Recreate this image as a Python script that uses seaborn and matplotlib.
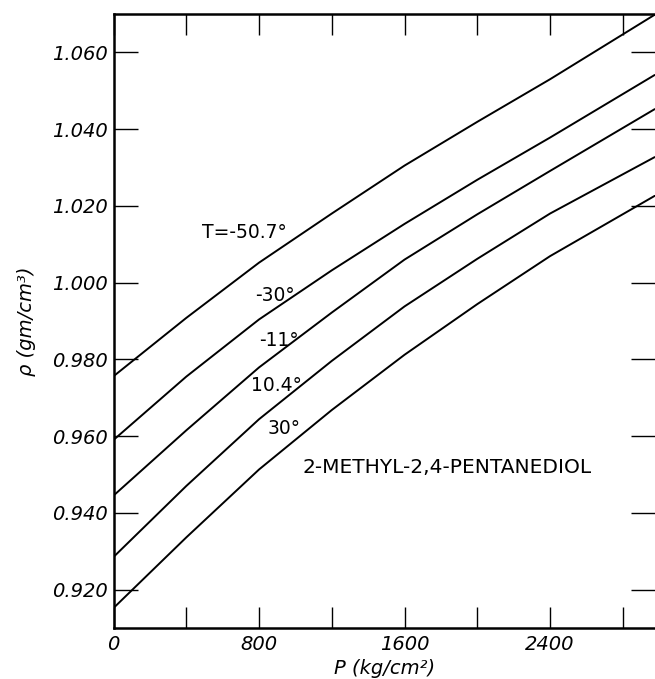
import numpy as np
import pandas as pd
import seaborn as sns
import matplotlib.pyplot as plt
from matplotlib.ticker import MultipleLocator

# pressure (kg/cm2) at which the curves were read
pressure = [0, 400, 800, 1200, 1600, 2000, 2400, 2975]

# density (gm/cm3) for each temperature
temps = ['-50.7', '-30', '-11', '10.4', '30']
rho_m507 = [0.9756, 0.9908, 1.0052, 1.0180, 1.0305, 1.0419, 1.0530, 1.0698]
rho_m30 = [0.9590, 0.9755, 0.9904, 1.0032, 1.0153, 1.0268, 1.0378, 1.0541]
rho_m11 = [0.9445, 0.9615, 0.9779, 0.9922, 1.0060, 1.0178, 1.0291, 1.0452]
rho_104 = [0.9285, 0.9470, 0.9644, 0.9796, 0.9938, 1.0062, 1.0180, 1.0327]
rho_30 = [0.9152, 0.9336, 0.9513, 0.9668, 0.9812, 0.9944, 1.0069, 1.0226]

curve_labels = ['T=-50.7°', '-30°', '-11°', '10.4°', '30°']
label_x = [720, 885, 912, 895, 938]
label_y = [1.0130, 0.9966, 0.9849, 0.9732, 0.9620]

rows = []
for t, vals in zip(temps, [rho_m507, rho_m30, rho_m11, rho_104, rho_30]):
    for p, r in zip(pressure, vals):
        rows.append({'P': p, 'rho': r, 'T': t})
df = pd.DataFrame(rows)

sns.set_style('ticks')
plt.rcParams['font.family'] = ['DejaVu Sans']
plt.rcParams['text.color'] = 'black'
plt.rcParams['axes.labelcolor'] = 'black'
plt.rcParams['xtick.color'] = 'black'
plt.rcParams['ytick.color'] = 'black'
plt.rcParams['axes.edgecolor'] = 'black'

fig = plt.figure(figsize=(6.55, 6.79), dpi=100)
ax = fig.add_axes([113.5 / 655, 1 - 628 / 679, 541.5 / 655, 614 / 679])

sns.lineplot(data=df, x='P', y='rho', hue='T', palette=['black'] * 5,
             legend=False, linewidth=1.4, ax=ax)

ax.xaxis.set_minor_locator(MultipleLocator(400))
ax.tick_params(axis='x', which='both', direction='in', length=15, width=1,
               top=True, bottom=True, pad=5, labelsize=14)
ax.tick_params(axis='y', which='both', direction='in', length=17, width=1,
               left=True, right=True, pad=4, labelsize=14)
ax.set_xticks([0, 800, 1600, 2400])
ax.set_xticklabels(['0', '800', '1600', '2400'], fontstyle='italic')
yt = [0.920, 0.940, 0.960, 0.980, 1.000, 1.020, 1.040, 1.060]
ax.set_yticks(yt)
ax.set_yticklabels([f'{v:.3f}' for v in yt], fontstyle='italic')
ax.set_xlim(0, 2977)
ax.set_ylim(0.910, 1.070)

for s in ['left', 'bottom', 'top']:
    ax.spines[s].set_linewidth(1.8)
ax.spines['right'].set_visible(False)

ax.set_xlabel('P (kg/cm²)', fontsize=14, fontstyle='italic', labelpad=4)
ax.set_ylabel('ρ (gm/cm³)', fontsize=14, fontstyle='italic', labelpad=12)

for txt, x, y in zip(curve_labels, label_x, label_y):
    ax.text(x, y, txt, fontsize=13.5, ha='center', va='center')
ax.text(1834, 0.9519, '2-METHYL-2,4-PENTANEDIOL', fontsize=14.5,
        ha='center', va='center')

plt.savefig('out.png', dpi=100)
